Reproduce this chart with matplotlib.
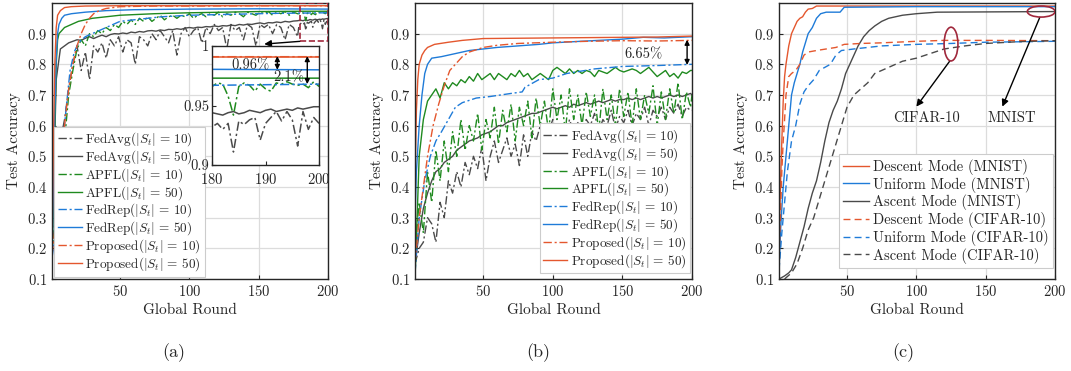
import numpy as np
import matplotlib
matplotlib.use("Agg")
import matplotlib.pyplot as plt
from matplotlib.patches import Ellipse, Rectangle

plt.rcParams['font.family'] = 'serif'
plt.rcParams['font.serif'] = ['cmr10', 'DejaVu Serif']
plt.rcParams['mathtext.fontset'] = 'cm'
plt.rcParams['axes.formatter.use_mathtext'] = True
plt.rcParams['font.size'] = 10.5

RED = '#e4572e'
BLUE = '#1f7bd8'
GREEN = '#1f8a1f'
GRAY = '#4a4a4a'
DD = (0, (6, 2, 1.5, 2))   # matlab-ish dash-dot

# ---------------- (a) MNIST ----------------
rounds_a = list(range(1, 179, 3)) + list(range(179, 201))
a_fedavg10 = [0.18, 0.35, 0.55, 0.62, 0.72, 0.80, 0.86, 0.78, 0.84, 0.75,
              0.86, 0.84, 0.87, 0.82, 0.88, 0.86, 0.89, 0.84, 0.88, 0.87,
              0.80, 0.89, 0.88, 0.86, 0.90, 0.88, 0.91, 0.89, 0.87, 0.91,
              0.83, 0.90, 0.92, 0.89, 0.91, 0.92, 0.87, 0.92, 0.90, 0.93,
              0.91, 0.92, 0.85, 0.93, 0.91, 0.92, 0.88, 0.93, 0.92, 0.86,
              0.93, 0.92, 0.93, 0.90, 0.93, 0.92, 0.88, 0.93, 0.92, 0.89,
              0.925, 0.932, 0.935, 0.930, 0.935, 0.911, 0.937, 0.934, 0.938, 0.940,
              0.921, 0.935, 0.940, 0.945, 0.937, 0.945, 0.938, 0.916, 0.945, 0.930,
              0.940, 0.935]
a_fedavg50 = [0.20, 0.75, 0.85, 0.86, 0.87, 0.875, 0.88, 0.878, 0.885, 0.89,
              0.884, 0.89, 0.895, 0.89, 0.897, 0.90, 0.899, 0.902, 0.90, 0.905,
              0.903, 0.907, 0.905, 0.909, 0.91, 0.908, 0.912, 0.91, 0.914, 0.913,
              0.916, 0.914, 0.918, 0.92, 0.918, 0.921, 0.92, 0.923, 0.922, 0.925,
              0.923, 0.926, 0.925, 0.928, 0.926, 0.93, 0.928, 0.931, 0.93, 0.933,
              0.935, 0.932, 0.936, 0.935, 0.938, 0.936, 0.94, 0.938, 0.941, 0.942,
              0.943, 0.944, 0.943, 0.942, 0.944, 0.945, 0.943, 0.944, 0.946, 0.945,
              0.944, 0.946, 0.947, 0.945, 0.946, 0.947, 0.946, 0.948, 0.947, 0.948,
              0.949, 0.949]
a_apfl10 = [0.20, 0.30, 0.45, 0.55, 0.70, 0.78, 0.85, 0.88, 0.86, 0.90,
            0.89, 0.91, 0.90, 0.92, 0.91, 0.93, 0.92, 0.94, 0.93, 0.945,
            0.93, 0.95, 0.94, 0.955, 0.94, 0.95, 0.96, 0.945, 0.955, 0.96,
            0.95, 0.96, 0.955, 0.965, 0.95, 0.96, 0.965, 0.955, 0.965, 0.96,
            0.97, 0.955, 0.965, 0.96, 0.97, 0.965, 0.955, 0.97, 0.965, 0.96,
            0.97, 0.965, 0.972, 0.96, 0.97, 0.965, 0.972, 0.96, 0.97, 0.965,
            0.965, 0.966, 0.969, 0.968, 0.958, 0.942, 0.966, 0.969, 0.967, 0.962,
            0.968, 0.964, 0.962, 0.969, 0.968, 0.970, 0.968, 0.967, 0.968, 0.965,
            0.970, 0.966]
a_r_fedrep10 = [1, 5, 8, 11, 14, 17, 20, 25, 30, 40, 50, 60, 80, 100, 130, 160, 180, 200]
a_fedrep10 = [0.17, 0.30, 0.50, 0.65, 0.78, 0.84, 0.87, 0.89, 0.90, 0.92,
              0.94, 0.945, 0.955, 0.96, 0.963, 0.966, 0.967, 0.968]
a_r_prop50 = [1, 2, 3, 4, 5, 7, 10, 15, 25, 50, 100, 150, 200]
a_prop50 = [0.20, 0.55, 0.80, 0.92, 0.96, 0.975, 0.985, 0.988, 0.99, 0.991, 0.991, 0.991, 0.991]
a_r_prop10 = [1, 4, 7, 10, 13, 16, 19, 22, 25, 28, 31, 35, 40, 50, 75, 100, 150, 200]
a_prop10 = [0.18, 0.30, 0.45, 0.60, 0.72, 0.80, 0.86, 0.90, 0.93, 0.95,
            0.965, 0.975, 0.982, 0.988, 0.99, 0.99, 0.991, 0.991]
a_r_fedrep50 = [1, 2, 3, 4, 5, 6, 8, 10, 15, 25, 40, 60, 100, 150, 200]
a_fedrep50 = [0.18, 0.40, 0.65, 0.82, 0.90, 0.93, 0.95, 0.96, 0.965, 0.97,
              0.975, 0.978, 0.98, 0.981, 0.98]
a_r_apfl50 = [1, 2, 3, 4, 5, 6, 8, 10, 15, 20, 25, 30, 40, 50, 75, 100, 150, 180, 200]
a_apfl50 = [0.18, 0.35, 0.60, 0.80, 0.88, 0.90, 0.91, 0.92, 0.93, 0.94,
            0.945, 0.95, 0.955, 0.96, 0.965, 0.968, 0.972, 0.973, 0.973]

# ---------------- (b) CIFAR-10 ----------------
rounds_b = list(range(1, 200, 3)) + [200]
b_fedavg10 = [0.15, 0.20, 0.22, 0.30, 0.28, 0.22, 0.35, 0.30, 0.42, 0.38,
              0.45, 0.40, 0.48, 0.44, 0.50, 0.46, 0.53, 0.42, 0.50, 0.55,
              0.48, 0.52, 0.56, 0.50, 0.54, 0.47, 0.57, 0.50, 0.58, 0.55,
              0.60, 0.52, 0.58, 0.62, 0.55, 0.60, 0.56, 0.62, 0.58, 0.61,
              0.57, 0.62, 0.60, 0.64, 0.58, 0.62, 0.60, 0.65, 0.59, 0.63,
              0.61, 0.65, 0.60, 0.64, 0.62, 0.66, 0.60, 0.65, 0.63, 0.66,
              0.62, 0.66, 0.64, 0.67, 0.63, 0.66, 0.65, 0.65]
b_fedavg50 = [0.15, 0.25, 0.33, 0.38, 0.42, 0.45, 0.46, 0.48, 0.49, 0.50,
              0.52, 0.53, 0.54, 0.55, 0.555, 0.56, 0.57, 0.575, 0.58, 0.59,
              0.60, 0.60, 0.61, 0.615, 0.62, 0.625, 0.63, 0.635, 0.64, 0.64,
              0.645, 0.65, 0.655, 0.66, 0.655, 0.66, 0.665, 0.66, 0.67, 0.665,
              0.67, 0.675, 0.67, 0.675, 0.68, 0.675, 0.68, 0.685, 0.68, 0.685,
              0.685, 0.69, 0.685, 0.69, 0.685, 0.69, 0.695, 0.69, 0.695, 0.69,
              0.695, 0.70, 0.695, 0.70, 0.695, 0.70, 0.705, 0.70]
b_apfl10 = [0.20, 0.35, 0.25, 0.45, 0.35, 0.52, 0.42, 0.55, 0.45, 0.58,
            0.50, 0.62, 0.52, 0.60, 0.55, 0.64, 0.52, 0.62, 0.56, 0.66,
            0.54, 0.65, 0.58, 0.67, 0.55, 0.66, 0.60, 0.68, 0.56, 0.69,
            0.60, 0.68, 0.58, 0.72, 0.62, 0.70, 0.58, 0.72, 0.62, 0.70,
            0.60, 0.71, 0.63, 0.70, 0.58, 0.72, 0.62, 0.70, 0.60, 0.72,
            0.63, 0.71, 0.60, 0.72, 0.62, 0.70, 0.64, 0.73, 0.60, 0.71,
            0.62, 0.72, 0.64, 0.74, 0.62, 0.71, 0.66, 0.70]
b_apfl50 = [0.10, 0.50, 0.62, 0.68, 0.70, 0.72, 0.69, 0.74, 0.72, 0.74,
            0.73, 0.75, 0.74, 0.76, 0.745, 0.77, 0.75, 0.76, 0.77, 0.75,
            0.77, 0.76, 0.75, 0.77, 0.76, 0.78, 0.76, 0.77, 0.75, 0.76,
            0.77, 0.76, 0.75, 0.78, 0.79, 0.78, 0.77, 0.785, 0.77, 0.78,
            0.77, 0.78, 0.775, 0.76, 0.78, 0.775, 0.77, 0.78, 0.79, 0.78,
            0.775, 0.78, 0.785, 0.78, 0.77, 0.78, 0.79, 0.775, 0.76, 0.77,
            0.78, 0.76, 0.77, 0.755, 0.775, 0.77, 0.78, 0.78]
b_r_prop50 = [1, 2, 3, 4, 6, 8, 10, 15, 25, 35, 50, 75, 100, 125, 150, 175, 200]
b_prop50 = [0.42, 0.65, 0.75, 0.80, 0.83, 0.845, 0.855, 0.865, 0.872, 0.878,
            0.884, 0.885, 0.886, 0.887, 0.888, 0.889, 0.892]
b_r_prop10 = [1, 4, 7, 10, 14, 18, 22, 26, 30, 35, 40, 50, 60, 75, 100, 125, 150, 175, 200]
b_prop10 = [0.15, 0.30, 0.40, 0.50, 0.60, 0.67, 0.73, 0.78, 0.80, 0.825,
            0.84, 0.855, 0.862, 0.868, 0.872, 0.875, 0.877, 0.876, 0.878]
b_r_fedrep50 = [1, 2, 4, 6, 8, 10, 13, 20, 30, 40, 50, 60, 75, 90, 100, 120, 150, 165, 180, 200]
b_fedrep50 = [0.30, 0.45, 0.60, 0.70, 0.77, 0.80, 0.82, 0.825, 0.835, 0.845,
              0.85, 0.855, 0.86, 0.865, 0.87, 0.875, 0.882, 0.888, 0.886, 0.89]
b_r_fedrep10 = [1, 4, 8, 12, 16, 20, 25, 30, 35, 45, 55, 70, 78, 80, 90, 100, 110, 130, 150, 175, 200]
b_fedrep10 = [0.12, 0.30, 0.42, 0.50, 0.55, 0.58, 0.62, 0.66, 0.675, 0.69,
              0.695, 0.705, 0.71, 0.725, 0.75, 0.755, 0.77, 0.785, 0.793, 0.796, 0.80]

# ---------------- (c) modes ----------------
c_r_desc_m = [1, 2, 3, 4, 5, 6, 8, 10, 12, 14, 16, 18, 20, 22, 25, 28, 50, 100, 200]
c_desc_m = [0.22, 0.40, 0.55, 0.68, 0.76, 0.80, 0.86, 0.90, 0.92, 0.94,
            0.95, 0.955, 0.97, 0.98, 0.982, 0.99, 0.99, 0.99, 0.99]
c_r_unif_m = [1, 2, 3, 4, 6, 8, 10, 12, 14, 16, 18, 20, 22, 25, 28, 31, 35, 45, 48, 100, 200]
c_unif_m = [0.13, 0.25, 0.33, 0.40, 0.50, 0.60, 0.70, 0.74, 0.77, 0.80,
            0.84, 0.87, 0.90, 0.92, 0.95, 0.965, 0.97, 0.97, 0.986, 0.988, 0.988]
c_r_asc_m = [1, 5, 8, 10, 13, 16, 19, 22, 25, 28, 31, 34, 37, 40, 43, 46, 49,
             52, 55, 58, 62, 66, 70, 75, 80, 90, 100, 115, 200]
c_asc_m = [0.10, 0.11, 0.12, 0.13, 0.17, 0.22, 0.27, 0.33, 0.38, 0.42,
           0.48, 0.55, 0.61, 0.65, 0.68, 0.72, 0.77, 0.80, 0.83, 0.86,
           0.89, 0.91, 0.925, 0.94, 0.95, 0.96, 0.965, 0.97, 0.972]
c_r_desc_c = [1, 2, 3, 4, 5, 6, 8, 10, 13, 16, 19, 22, 28, 35, 42, 48, 60, 75, 100, 120, 150, 200]
c_desc_c = [0.18, 0.30, 0.45, 0.55, 0.62, 0.70, 0.76, 0.77, 0.78, 0.80,
            0.83, 0.84, 0.845, 0.85, 0.855, 0.865, 0.868, 0.87, 0.875, 0.878, 0.878, 0.877]
c_r_unif_c = [1, 3, 5, 7, 10, 13, 16, 19, 22, 26, 30, 34, 38, 42, 46, 55, 65, 75, 100, 125, 150, 200]
c_unif_c = [0.13, 0.25, 0.35, 0.45, 0.55, 0.60, 0.67, 0.71, 0.73, 0.75,
            0.78, 0.79, 0.80, 0.83, 0.845, 0.85, 0.855, 0.86, 0.865, 0.868, 0.872, 0.875]
c_r_asc_c = [5, 10, 14, 18, 22, 26, 30, 34, 38, 42, 46, 50, 55, 60, 65, 70, 75,
             80, 90, 100, 110, 120, 135, 150, 175, 200]
c_asc_c = [0.10, 0.12, 0.15, 0.20, 0.26, 0.30, 0.36, 0.42, 0.48, 0.54,
           0.60, 0.66, 0.70, 0.72, 0.74, 0.77, 0.78, 0.79, 0.81, 0.82,
           0.835, 0.85, 0.86, 0.868, 0.874, 0.877]

labels_ab = [r'FedAvg($|S_t|\,=\,10$)', r'FedAvg($|S_t|\,=\,50$)', r'APFL($|S_t|\,=\,10$)',
             r'APFL($|S_t|\,=\,50$)', r'FedRep($|S_t|\,=\,10$)', r'FedRep($|S_t|\,=\,50$)',
             r'Proposed($|S_t|\,=\,10$)', r'Proposed($|S_t|\,=\,50$)']
labels_c = ['Descent Mode (MNIST)', 'Uniform Mode (MNIST)', 'Ascent Mode (MNIST)',
            'Descent Mode (CIFAR-10)', 'Uniform Mode (CIFAR-10)', 'Ascent Mode (CIFAR-10)']

TXT = '#262626'


def style(ax, xlim=(1, 200), ylim=(0.1, 1.0), yt=np.arange(0.1, 0.95, 0.1), xt=(50, 100, 150, 200)):
    ax.set_xlim(*xlim)
    ax.set_ylim(*ylim)
    ax.set_yticks(yt)
    ax.set_xticks(xt)
    ax.grid(True, color='#dcdcdc', lw=0.9)
    ax.set_axisbelow(True)
    ax.tick_params(direction='in', length=3, colors=TXT, labelsize=10.5)
    for s in ax.spines.values():
        s.set_color(TXT)
        s.set_linewidth(1.0)


def legend(ax, loc, anchor, fs=9.5, ls=0.0):
    lg = ax.legend(loc=loc, bbox_to_anchor=anchor, fontsize=fs, fancybox=False,
                   framealpha=1, edgecolor='#cccccc', labelspacing=ls,
                   handlelength=1.8, handletextpad=0.25, borderpad=0.3, borderaxespad=0)
    lg.get_frame().set_linewidth(0.8)
    for t in lg.get_texts():
        t.set_color(TXT)


fig = plt.figure(figsize=(10.71, 3.71), dpi=100)
axa = fig.add_axes([0.0486, 0.248, 0.2577, 0.744])
axb = fig.add_axes([0.3875, 0.248, 0.2586, 0.744])
axc = fig.add_axes([0.7274, 0.248, 0.2577, 0.744])


def draw_ab(ax, d, lw=1.0):
    ax.plot(d[0][0], d[0][1], color=GRAY, ls=DD, lw=lw, label=labels_ab[0])
    ax.plot(d[1][0], d[1][1], color=GRAY, ls='-', lw=lw, label=labels_ab[1])
    ax.plot(d[2][0], d[2][1], color=GREEN, ls=DD, lw=lw, label=labels_ab[2])
    ax.plot(d[3][0], d[3][1], color=GREEN, ls='-', lw=lw, label=labels_ab[3])
    ax.plot(d[4][0], d[4][1], color=BLUE, ls=DD, lw=lw, label=labels_ab[4])
    ax.plot(d[5][0], d[5][1], color=BLUE, ls='-', lw=lw, label=labels_ab[5])
    ax.plot(d[6][0], d[6][1], color=RED, ls=DD, lw=lw, label=labels_ab[6])
    ax.plot(d[7][0], d[7][1], color=RED, ls='-', lw=lw, label=labels_ab[7])


data_a = [(rounds_a, a_fedavg10), (rounds_a, a_fedavg50), (rounds_a, a_apfl10),
          (a_r_apfl50, a_apfl50), (a_r_fedrep10, a_fedrep10), (a_r_fedrep50, a_fedrep50),
          (a_r_prop10, a_prop10), (a_r_prop50, a_prop50)]
data_b = [(rounds_b, b_fedavg10), (rounds_b, b_fedavg50), (rounds_b, b_apfl10),
          (rounds_b, b_apfl50), (b_r_fedrep10, b_fedrep10), (b_r_fedrep50, b_fedrep50),
          (b_r_prop10, b_prop10), (b_r_prop50, b_prop50)]

arrow2 = dict(arrowstyle='<|-|>', color='black', lw=1.0, mutation_scale=7, shrinkA=0, shrinkB=0)
arrow1 = dict(arrowstyle='-|>', color='black', lw=1.0, mutation_scale=10, shrinkA=0, shrinkB=0)

# (a)
draw_ab(axa, data_a)
style(axa)
axa.set_ylabel('Test Accuracy', color=TXT, fontsize=11)
axa.set_xlabel('Global Round', color=TXT, fontsize=11, labelpad=3)
legend(axa, 'lower left', (0.008, 0.008))
axa.add_patch(Rectangle((180, 0.875), 20, 0.125, fill=False, ls='--', ec='#a0283c', lw=1.2, zorder=5))
axa.annotate('', xy=(154, 0.866), xytext=(180, 0.875), arrowprops=arrow1)

ins = fig.add_axes([0.198, 0.555, 0.0999, 0.321])
draw_ab(ins, data_a, lw=1.1)
style(ins, xlim=(180, 200), ylim=(0.9, 1.0), yt=[0.9, 0.95, 1.0], xt=[180, 190, 200])
ins.grid(False)
ins.set_yticklabels(['0.9', '0.95', '1'])
ins.set_facecolor('white')
ins.tick_params(axis='y', pad=2)
ins.tick_params(axis='x', pad=5)
ins.text(187.2, 0.984, '0.96%', ha='center', va='center', fontsize=10.5, color=TXT)
ins.annotate('', xy=(192.2, 0.980), xytext=(192.2, 0.9915), arrowprops=arrow2)
ins.text(194.4, 0.974, '2.1%', ha='center', va='center', fontsize=10.5, color=TXT)
ins.annotate('', xy=(197.8, 0.968), xytext=(197.8, 0.9915), arrowprops=arrow2)

# (b)
draw_ab(axb, data_b)
style(axb)
axb.set_ylabel('Test Accuracy', color=TXT, fontsize=11)
axb.set_xlabel('Global Round', color=TXT, fontsize=11, labelpad=3)
legend(axb, 'lower right', (0.993, 0.02))
axb.text(165, 0.832, '6.65%', ha='center', va='center', fontsize=10.5, color=TXT)
axb.annotate('', xy=(196.5, 0.798), xytext=(196.5, 0.88), arrowprops=arrow2)

# (c)
axc.plot(c_r_desc_m, c_desc_m, color=RED, ls='-', lw=1.0, label=labels_c[0])
axc.plot(c_r_unif_m, c_unif_m, color=BLUE, ls='-', lw=1.0, label=labels_c[1])
axc.plot(c_r_asc_m, c_asc_m, color=GRAY, ls='-', lw=1.0, label=labels_c[2])
axc.plot(c_r_desc_c, c_desc_c, color=RED, ls=(0, (5, 3)), lw=1.0, label=labels_c[3])
axc.plot(c_r_unif_c, c_unif_c, color=BLUE, ls=(0, (5, 3)), lw=1.0, label=labels_c[4])
axc.plot(c_r_asc_c, c_asc_c, color=GRAY, ls=(0, (5, 3)), lw=1.0, label=labels_c[5])
style(axc)
axc.set_ylabel('Test Accuracy', color=TXT, fontsize=11)
axc.set_xlabel('Global Round', color=TXT, fontsize=11, labelpad=3)
legend(axc, 'lower right', (0.993, 0.04), fs=10.5, ls=0.12)
axc.add_patch(Ellipse((125, 0.866), 10, 0.11, fill=False, ec='#a0283c', lw=1.2, zorder=5))
axc.add_patch(Ellipse((190, 0.972), 20, 0.036, fill=False, ec='#a0283c', lw=1.2, zorder=5))
axc.annotate('', xy=(100, 0.662), xytext=(124, 0.81), arrowprops=arrow1)
axc.annotate('', xy=(162, 0.662), xytext=(189, 0.953), arrowprops=arrow1)
axc.text(107, 0.626, 'CIFAR-10', ha='center', va='center', fontsize=10.5, color=TXT)
axc.text(169, 0.626, 'MNIST', ha='center', va='center', fontsize=10.5, color=TXT)

for x, s in [(0.1625, '(a)'), (0.5025, '(b)'), (0.843, '(c)')]:
    fig.text(x, 0.05, s, ha='center', va='center', fontsize=13, color=TXT)

fig.savefig('out.png', dpi=100)
